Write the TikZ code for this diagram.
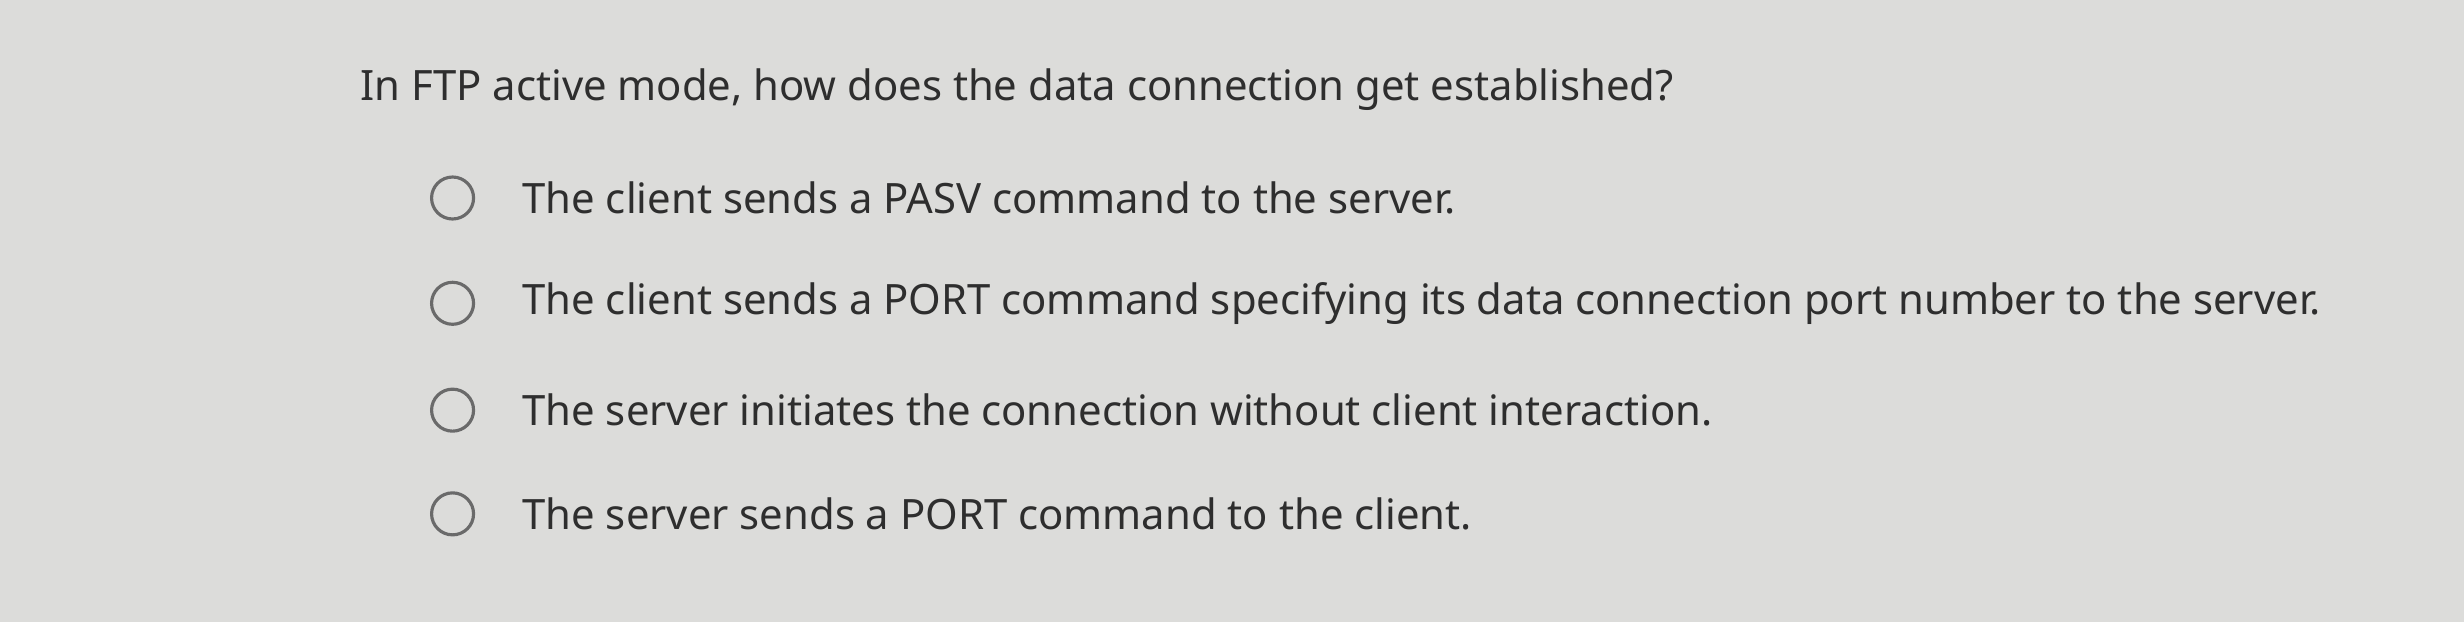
\documentclass[tikz,border=0pt]{standalone}
\usepackage{fontspec}
\setmainfont{Noto Sans}
\definecolor{bg}{HTML}{DCDCDA}
\definecolor{ink}{HTML}{2E2E2E}
\definecolor{ring}{HTML}{6A6A6A}
\begin{document}
\begin{tikzpicture}[x=0.015714cm,y=-0.015714cm,
  q/.style={anchor=west,inner sep=0pt,text=ink,font=\fontsize{11.9}{14}\selectfont},
  radio/.style={circle,draw=ring,line width=0.9pt,minimum size=0.42cm,inner sep=0pt}]
\fill[bg] (0,0) rectangle (1568,396);
\node[q] (question) at (229,57) {In FTP active mode, how does the data connection get established?};
\node[radio] (r1) at (288,126) {};
\node[q] (o1) at (332,126) {The client sends a PASV command to the server.};
\node[radio] (r2) at (288,193) {};
\node[q] (o2) at (332,193) {The client sends a PORT command specifying its data connection port number to the server.};
\node[radio] (r3) at (288,261) {};
\node[q] (o3) at (332,261) {The server initiates the connection without client interaction.};
\node[radio] (r4) at (288,327) {};
\node[q] (o4) at (332,327) {The server sends a PORT command to the client.};
\end{tikzpicture}
\end{document}
